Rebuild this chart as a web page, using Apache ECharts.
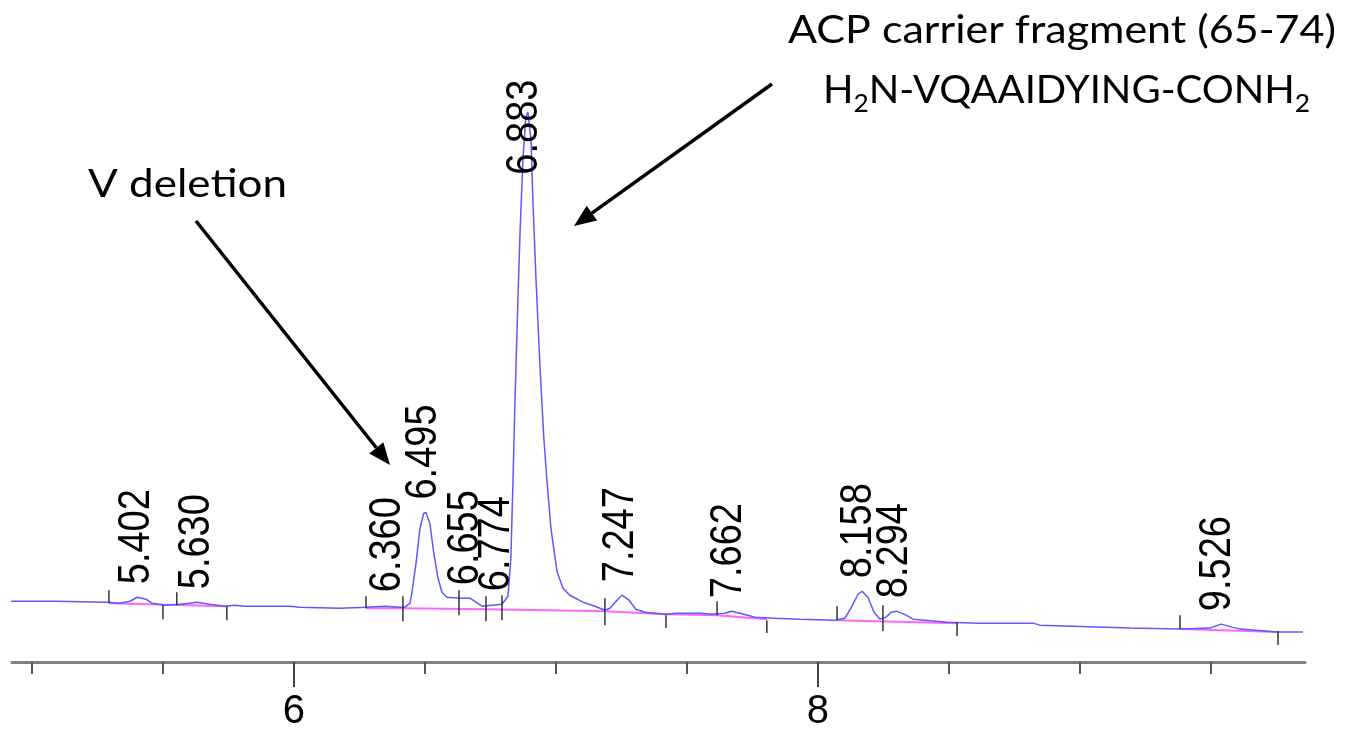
<!DOCTYPE html>
<html>
<head>
<meta charset="utf-8">
<script src="https://cdn.jsdelivr.net/npm/echarts@6/dist/echarts.min.js"></script>
<style>
  html, body { margin: 0; padding: 0; background: #fff; }
  #chart { width: 1349px; height: 732px; }
</style>
</head>
<body>
<div id="chart"></div>
<script>
// retention time (min) and detector signal
const times = [4.916, 5.088, 5.290, 5.336, 5.374, 5.402, 5.435, 5.458, 5.508, 5.565, 5.603, 5.630, 5.679,
  5.737, 5.775, 5.813, 5.985, 6.023, 6.176, 6.275, 6.347, 6.405, 6.424, 6.443, 6.450, 6.466, 6.481,
  6.495, 6.504, 6.519, 6.534, 6.550, 6.565, 6.584, 6.634, 6.672, 6.695, 6.718, 6.756, 6.794, 6.817,
  6.828, 6.836, 6.844, 6.855, 6.863, 6.874, 6.885, 6.893, 6.905, 6.912, 6.924, 6.939, 6.954, 6.966,
  6.981, 7.004, 7.027, 7.053, 7.103, 7.149, 7.187, 7.206, 7.233, 7.252, 7.279, 7.305, 7.340, 7.416,
  7.462, 7.550, 7.595, 7.645, 7.670, 7.702, 7.760, 7.836, 7.931, 8.065, 8.103, 8.130, 8.153, 8.168,
  8.191, 8.214, 8.237, 8.260, 8.280, 8.300, 8.336, 8.363, 8.492, 8.618, 8.821, 8.847, 8.973, 9.191,
  9.382, 9.496, 9.538, 9.580, 9.611, 9.752, 9.851];
const signal = [61, 61, 60, 59, 61, 65, 63, 59, 57, 58, 59, 60, 58,
  56, 57, 56, 56, 55, 54, 55, 56, 55, 55, 59, 69, 99, 134,
  149, 150, 139, 109, 84, 70, 65, 64, 64, 60, 56, 57, 58, 66,
  104, 181, 264, 364, 431, 504, 546, 552, 524, 464, 384, 297, 224, 181,
  134, 91, 74, 67, 60, 56, 52, 54, 62, 67, 62, 53, 50, 48,
  49, 49, 48, 49, 51, 49, 45, 44, 43, 42, 44, 56, 68, 71,
  65, 50, 43, 45, 50, 51, 47, 43, 40, 39, 39, 37, 36, 34,
  33, 34, 38, 35, 33, 30, 30];

// integration baseline, '-' breaks the segments
const baseTimes = [5.294, 5.744, 5.744, 6.275, 6.416, 6.733, 7.187, 7.420, 7.615, 7.805, 7.805,
  8.073, 8.531, 8.531, 9.382, 9.756];
const baseVals = [59, 56, '-', 54, 54, 53, 51, 48, 47, 43, '-', 42, 39, '-', 33, 30];

// peak start / end event marks
const eventTimes = [5.294, 5.500, 5.553, 5.744, 6.275, 6.416, 6.630, 6.733, 6.794, 7.187, 7.420,
  7.615, 7.805, 8.073, 8.248, 8.531, 9.382, 9.756];
const eventLow = [59, 43, 57, 42, 54, 41, 47, 41, 42, 37, 34, 47, 29, 42, 31, 26, 33, 17];
const eventHigh = [72, 57, 70, 56, 66, 66, 72, 66, 67, 64, 47, 61, 42, 56, 57, 40, 47, 31];

// labelled peaks
const peakTimes = [5.402, 5.630, 6.360, 6.495, 6.655, 6.774, 6.883, 7.247, 7.662, 8.158, 8.294, 9.526];
const peakHeights = [65, 60, 57, 150, 64, 58, 552, 67, 51, 71, 51, 38];

const majorTicks = [6, 8];
const minorTicks = [5, 5.5, 6.5, 7, 7.5, 8.5, 9, 9.5];

const labelCeiling = 476;

function textScale(text, font, target) {
  const ctx = document.createElement('canvas').getContext('2d');
  ctx.font = font;
  return target / ctx.measureText(text).width;
}

function arrow(x1, y1, x2, y2) {
  const a = Math.atan2(y2 - y1, x2 - x1), L = 22, W = 9;
  const bx = x2 - L * Math.cos(a), by = y2 - L * Math.sin(a);
  const px = -Math.sin(a) * W, py = Math.cos(a) * W;
  return [
    { type: 'line', shape: { x1: x1, y1: y1, x2: bx, y2: by }, style: { stroke: '#000', lineWidth: 3.5 } },
    { type: 'polygon', shape: { points: [[x2, y2], [bx + px, by + py], [bx - px, by - py]] }, style: { fill: '#000' } }
  ];
}

const annFont = '38px Lato';
const sx1 = textScale('ACP carrier fragment (65-74)', annFont, 548);
const ctx2 = document.createElement('canvas').getContext('2d');
ctx2.font = annFont;
let w2 = ctx2.measureText('HN-VQAAIDYING-CONH').width;
ctx2.font = '25px Lato';
w2 += 2 * ctx2.measureText('2').width;
const sx2 = 487 / w2;
const sx3 = textScale('V deletion', annFont, 199);

option = {
  animation: false,
  grid: { left: 12, right: 44, top: 100, bottom: 68 },
  xAxis: [
    {
      type: 'value', min: 4.924, max: 9.859,
      axisLine: { lineStyle: { color: '#808080', width: 3 } },
      axisTick: { customValues: majorTicks, length: 25, lineStyle: { color: '#444', width: 2 } },
      axisLabel: { customValues: majorTicks, margin: 30, fontSize: 40, color: '#000',
        fontFamily: 'Liberation Sans' },
      splitLine: { show: false }
    },
    {
      type: 'value', min: 4.924, max: 9.859, position: 'bottom',
      axisLine: { show: false },
      axisTick: { customValues: minorTicks, length: 12, lineStyle: { color: '#555', width: 2 } },
      axisLabel: { show: false },
      splitLine: { show: false }
    }
  ],
  yAxis: { type: 'value', min: 0, max: 564, show: false },
  series: [
    {
      name: 'baseline', type: 'line', z: 2, showSymbol: false, connectNulls: false,
      data: baseTimes.map((t, i) => [t, baseVals[i]]),
      lineStyle: { color: '#ff66ff', width: 2 }
    },
    {
      name: 'signal', type: 'line', z: 3, showSymbol: false,
      data: times.map((t, i) => [t, signal[i]]),
      lineStyle: { color: '#5a5aff', width: 1.5 }
    },
    {
      name: 'events', type: 'custom', z: 4,
      data: eventTimes.map((t, i) => [t, eventLow[i], eventHigh[i]]),
      encode: { x: 0, y: [1, 2] },
      renderItem: function (params, api) {
        const p1 = api.coord([api.value(0), api.value(1)]);
        const p2 = api.coord([api.value(0), api.value(2)]);
        return { type: 'line', shape: { x1: p1[0], y1: p1[1], x2: p2[0], y2: p2[1] },
          style: { stroke: '#333', lineWidth: 1.5 } };
      }
    },
    {
      name: 'peaks', type: 'custom', z: 5,
      data: peakTimes.map((t, i) => [t, Math.min(peakHeights[i], labelCeiling)]),
      encode: { x: 0, y: 1 },
      renderItem: function (params, api) {
        const p = api.coord([api.value(0), api.value(1)]);
        return {
          type: 'text', x: p[0], y: p[1] - 13, rotation: Math.PI / 2, scaleY: 1.15,
          style: { text: api.value(0).toFixed(3), font: '38px "Liberation Sans"', fill: '#000',
            align: 'left', verticalAlign: 'middle' }
        };
      }
    }
  ],
  graphic: {
    elements: [
      { type: 'text', x: 788, y: 31, scaleX: sx1,
        style: { text: 'ACP carrier fragment (65-74)', font: annFont, fill: '#000',
          align: 'left', verticalAlign: 'middle' } },
      { type: 'text', x: 823, y: 91, scaleX: sx2,
        style: { text: '{n|H}{s|2}{n|N-VQAAIDYING-CONH}{s|2}', align: 'left', verticalAlign: 'middle',
          rich: {
            n: { font: annFont, fill: '#000', lineHeight: 50 },
            s: { font: '25px Lato', fill: '#000', lineHeight: 18, verticalAlign: 'bottom' }
          } } },
      { type: 'text', x: 88, y: 185, scaleX: sx3,
        style: { text: 'V deletion', font: annFont, fill: '#000', align: 'left', verticalAlign: 'middle' } }
    ].concat(arrow(196, 221, 390, 465), arrow(772, 84, 574, 226))
  }
};

var myChart = echarts.init(document.getElementById('chart'));
myChart.setOption(option);
</script>
</body>
</html>
